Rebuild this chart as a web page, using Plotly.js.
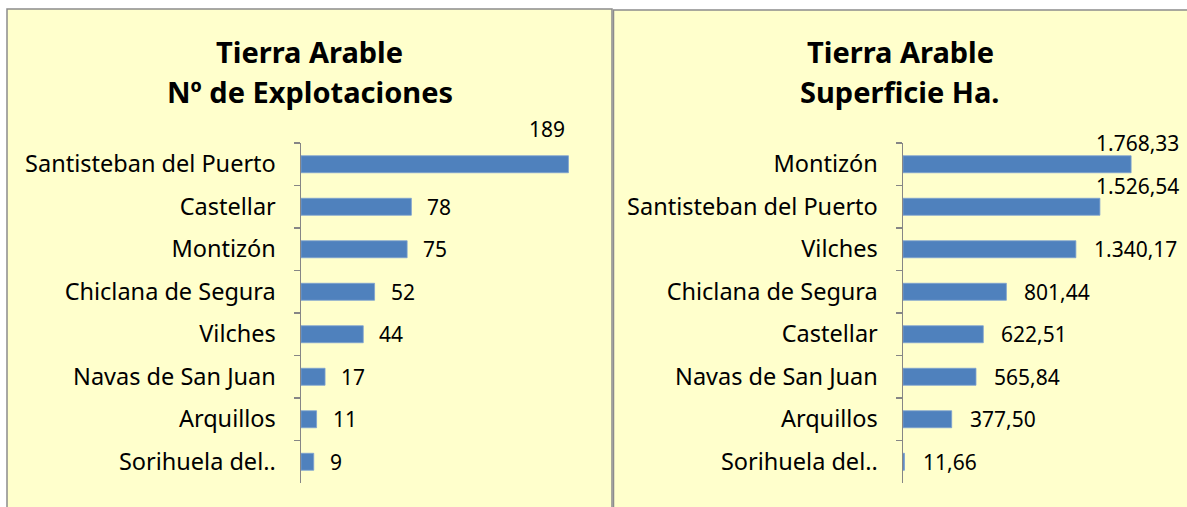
<!DOCTYPE html>
<html><head><meta charset="utf-8">
<script src="https://cdn.plot.ly/plotly-3.0.1.min.js"></script>
<style>html,body{margin:0;padding:0;background:#fff}#c{width:1187px;height:507px}</style>
</head><body><div id="c"></div>
<script>
// ---- data ----
const catsLeft = ["Santisteban del Puerto","Castellar","Montizón","Chiclana de Segura","Vilches","Navas de San Juan","Arquillos","Sorihuela del.."];
const valsLeft = [189,78,75,52,44,17,11,9];
const catsRight = ["Montizón","Santisteban del Puerto","Vilches","Chiclana de Segura","Castellar","Navas de San Juan","Arquillos","Sorihuela del.."];
const valsRight = [1768.33,1526.54,1340.17,801.44,622.51,565.84,377.50,11.66];
const titleLeft = ["Tierra Arable","Nº de Explotaciones"];
const titleRight = ["Tierra Arable","Superficie Ha."];

// ---- layout geometry (pixels) ----
const W = 1187, H = 507;
const FONT = "Noto Sans, Open Sans, sans-serif";
const px = x => x / W, py = y => 1 - y / H;
const P1 = {x0:301, x1:584, y0:143, y1:483, xmax:200, limit:567, up:35, gap:14, dec:0, cx:310};
const P2 = {x0:903, x1:1161, y0:143, y1:483, xmax:2000, limit:1181, up:21, gap:16, dec:2, cx:900};

function fmt(v, dec){
  let s = v.toFixed(dec);
  let [i, d] = s.split(".");
  i = i.replace(/\B(?=(\d{3})+(?!\d))/g, ".");
  return d ? i + "," + d : i;
}
const cv = document.createElement("canvas").getContext("2d");
const LBL = 21;
cv.font = LBL + "px Noto Sans";

function labelAnns(cats, vals, P, xa, ya){
  const out = [];
  cats.forEach((c, k) => {
    const v = vals[k];
    const t = fmt(v, P.dec);
    const w = cv.measureText(t).width;
    const end = P.x0 + v * (P.x1 - P.x0) / P.xmax;
    let start = end + P.gap;
    const a = {text:t, yref:ya, y:c, xref:"paper", showarrow:false,
      font:{family:FONT, size:LBL, color:"#000"}, yanchor:"middle"};
    if (start + w > P.limit){
      a.x = px(P.limit); a.xanchor = "right";
      if (P.limit - w < end + 2) a.yshift = P.up;
    } else { a.x = px(start); a.xanchor = "left"; }
    out.push(a);
  });
  return out;
}

function yax(P, anchor, cats){
  return {domain:[py(P.y1), py(P.y0)], anchor:anchor, type:"category",
    categoryorder:"array", categoryarray:cats, autorange:"reversed",
    showline:true, linecolor:"#868686", linewidth:1.5, ticks:"outside",
    tickson:"boundaries", ticklen:6, tickcolor:"#868686", tickwidth:1.5,
    showgrid:false, zeroline:false, ticklabelstandoff:19,
    tickfont:{family:FONT, size:23.5, color:"#000"}};
}
function xax(P, anchor){
  return {domain:[px(P.x0), px(P.x1)], anchor:anchor, range:[0, P.xmax],
    visible:false, showgrid:false, zeroline:false, fixedrange:true};
}

const bar = (cats, vals, xa, ya) => ({type:"bar", orientation:"h", y:cats, x:vals,
  xaxis:xa, yaxis:ya, width:0.4, hoverinfo:"skip",
  marker:{color:"#4F81BD", line:{color:"#7da2d1", width:0.8}}});

const titleAnn = (lines, cx) => lines.map((t, k) => ({text:"<b>"+t+"</b>", xref:"paper", yref:"paper",
  x:px(cx), y:py(52 + 39*k), xanchor:"center", yanchor:"middle", showarrow:false,
  font:{family:FONT, size:29, color:"#000"}}));

const layout = {
  width:W, height:H, autosize:false, margin:{l:0,r:0,t:0,b:0},
  paper_bgcolor:"#fff", plot_bgcolor:"rgba(0,0,0,0)", showlegend:false,
  xaxis:xax(P1,"y"), yaxis:yax(P1,"x",catsLeft),
  xaxis2:xax(P2,"y2"), yaxis2:yax(P2,"x2",catsRight),
  shapes:[
    {type:"rect", xref:"paper", yref:"paper", x0:px(7), x1:px(612), y0:py(520), y1:py(9),
      fillcolor:"#FFFFCC", line:{color:"#8c8c8c", width:1.5}, layer:"below"},
    {type:"rect", xref:"paper", yref:"paper", x0:px(613.5), x1:px(1200), y0:py(520), y1:py(10),
      fillcolor:"#FFFFCC", line:{color:"#8c8c8c", width:1.5}, layer:"below"}
  ],
  annotations:[].concat(
    titleAnn(titleLeft, P1.cx), titleAnn(titleRight, P2.cx),
    labelAnns(catsLeft, valsLeft, P1, "x", "y"),
    labelAnns(catsRight, valsRight, P2, "x2", "y2"))
};
Plotly.newPlot("c", [bar(catsLeft, valsLeft, "x", "y"), bar(catsRight, valsRight, "x2", "y2")], layout, {staticPlot:true, displayModeBar:false});
</script></body></html>
